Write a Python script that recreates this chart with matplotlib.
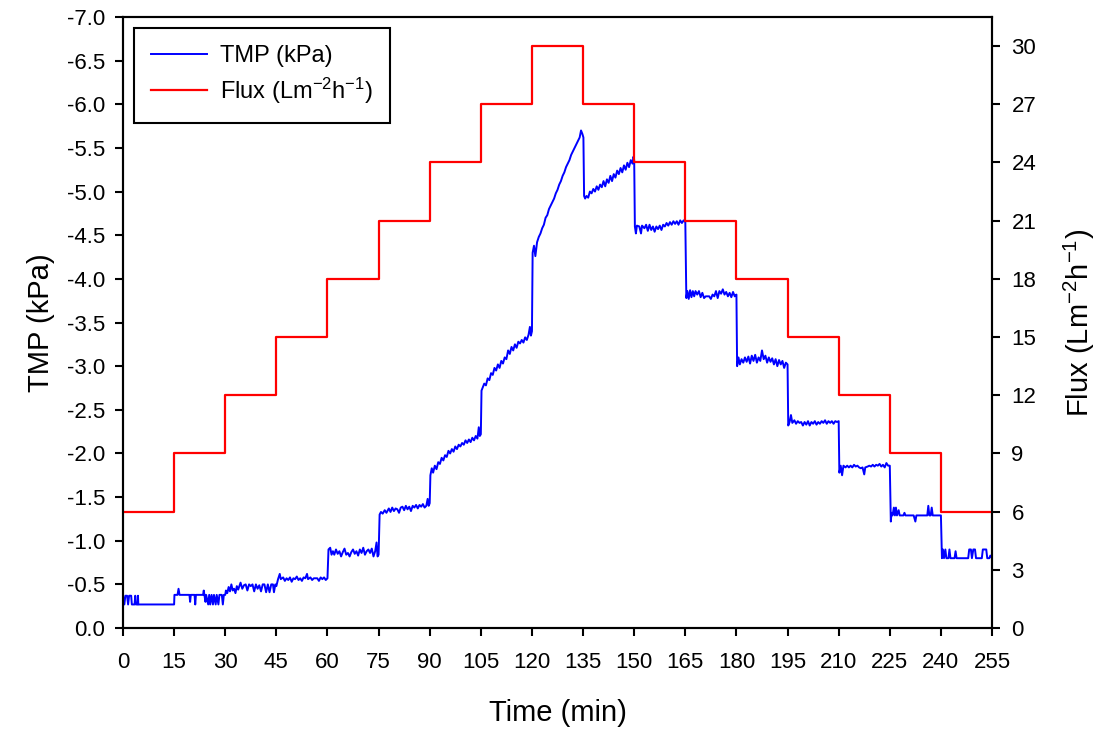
import matplotlib
matplotlib.use("Agg")
import matplotlib.pyplot as plt
from matplotlib.ticker import MultipleLocator, FormatStrFormatter

# TMP trace (time in min, TMP in kPa)
tmp_time = [
    0, 0.4, 0.7, 1.2, 1.5, 1.8, 2.4, 2.6, 3.4, 3.6, 3.8, 4.3, 4.4, 4.5, 15.0,
    15.1, 16.0, 16.3, 16.6, 19.5, 19.7, 19.9, 21.0, 21.2, 21.4, 23.5, 23.7, 23.9, 24.2, 24.4,
    25.0, 25.3, 25.6, 26.0, 26.4, 26.7, 27.2, 27.5, 28.0, 28.3, 29.0, 29.3, 29.6, 30.0,
    30.2, 30.6, 31.0, 31.4, 31.8, 32.2, 32.6, 33.0, 33.4, 33.8, 34.5, 35.0, 35.5, 36.0, 36.5,
    37.0, 37.5, 38.0, 38.5, 39.0, 39.5, 40.0, 40.5, 41.0, 41.5, 42.0, 42.5, 43.0, 43.5, 44.0,
    44.3, 44.7, 45.0,
    45.5, 46.0, 46.3, 47.0, 47.5, 48.0, 48.5, 49.0, 49.5, 50.0, 50.5, 51.0, 51.5, 52.0, 52.5,
    53.0, 53.5, 54.0, 54.3, 55.0, 55.5, 56.0, 57.0, 57.5, 58.0, 58.5, 59.0, 59.5, 60.0,
    60.3, 60.8, 61.2, 61.6, 62.0, 62.5, 63.0, 63.5, 64.0, 64.5, 65.0, 65.5, 66.0, 66.5, 67.0,
    67.5, 68.0, 68.5, 69.0, 69.5, 70.0, 70.5, 71.0, 71.5, 72.0, 72.5, 73.0, 73.5, 74.0, 74.4,
    74.7, 75.0,
    75.3, 75.7, 76.2, 76.8, 77.3, 78.0, 78.5, 79.0, 79.5, 80.0, 80.5, 81.0, 81.5, 82.0, 82.5,
    83.0, 83.5, 84.0, 84.5, 85.0, 85.5, 86.0, 86.5, 87.0, 87.5, 88.0, 88.5, 89.0, 89.4, 89.7, 90.0,
    90.2, 90.6, 91.0, 91.5, 92.0, 92.5, 93.0, 93.5, 94.0, 94.5, 95.0, 95.5, 96.0, 96.5, 97.0,
    97.5, 98.0, 98.5, 99.0, 99.5, 100.0, 100.5, 101.0, 101.5, 102.0, 102.5, 103.0, 103.5, 104.0,
    104.4, 104.7, 105.0,
    105.2, 105.6, 106.0, 106.5, 107.0, 107.5, 108.0, 108.5, 109.0, 109.5, 110.0, 110.5, 111.0,
    111.5, 112.0, 112.5, 113.0, 113.5, 114.0, 114.5, 115.0, 115.5, 116.0, 116.5, 117.0, 117.5,
    118.0, 118.5, 119.0, 119.4, 119.7, 120.0,
    120.2, 120.6, 121.0, 121.5, 122.0, 122.5, 123.0, 123.5, 124.0, 124.5, 125.0, 125.5, 126.0,
    126.5, 127.0, 127.5, 128.0, 128.5, 129.0, 129.5, 130.0, 130.5, 131.0, 131.5, 132.0, 132.5,
    133.0, 133.5, 134.0, 134.4, 134.8, 135.1, 135.3,
    135.6, 136.0, 136.5, 137.0, 137.5, 138.0, 138.5, 139.0, 139.5, 140.0, 140.5, 141.0, 141.5,
    142.0, 142.5, 143.0, 143.5, 144.0, 144.5, 145.0, 145.5, 146.0, 146.5, 147.0, 147.5, 148.0,
    148.5, 149.0, 149.5, 149.8, 150.0, 150.2,
    150.5, 150.8, 151.5, 152.0, 152.3, 153.0, 153.5, 154.0, 154.5, 155.0, 155.5, 156.0, 156.5,
    157.0, 157.5, 158.0, 158.5, 159.0, 159.5, 160.0, 160.5, 161.0, 161.5, 162.0, 162.5, 163.0,
    163.5, 164.0, 164.5, 165.0,
    165.3, 165.6, 166.0, 166.4, 166.8, 167.2, 167.6, 168.0, 168.5, 169.0, 169.5, 170.0, 170.5,
    171.0, 172.0, 172.5, 173.0, 173.5, 174.0, 174.5, 175.0, 175.5, 176.0, 176.5, 177.0, 177.5,
    178.0, 178.5, 179.0, 179.5, 180.0,
    180.2, 180.6, 181.0, 181.5, 182.0, 182.5, 183.0, 183.5, 184.0, 184.5, 185.0, 185.5, 186.0,
    186.5, 187.0, 187.5, 188.0, 188.5, 189.0, 189.5, 190.0, 190.5, 191.0, 191.5, 192.0, 192.5,
    193.0, 193.5, 194.0, 194.5, 195.0,
    195.2, 195.6, 196.0, 196.4, 197.0, 197.5, 198.0, 198.5, 199.0, 199.5, 200.0, 200.5, 201.0,
    201.5, 202.0, 202.5, 203.0, 203.5, 204.0, 204.5, 205.0, 205.5, 206.0, 206.5, 207.0, 207.5,
    208.0, 208.5, 209.0, 209.5, 210.0,
    210.2, 210.6, 211.0, 211.4, 212.0, 212.5, 213.0, 213.5, 214.0, 214.5, 215.0, 215.5, 216.0,
    216.5, 217.0, 217.5, 217.8, 218.5, 219.0, 219.5, 220.0, 220.5, 221.0, 221.5, 222.0, 222.5,
    223.0, 223.5, 224.0, 224.5, 225.0,
    225.3, 225.5, 225.8, 226.2, 226.5, 226.8, 227.1, 227.6, 227.9, 229.0, 229.3, 229.6, 231.0,
    232.0, 232.5, 232.8, 236.0, 236.3, 236.6, 237.0, 237.3, 237.6, 240.0,
    240.3, 240.6, 240.9, 241.3, 241.6, 242.2, 242.5, 242.8, 244.0, 244.3, 244.6, 248.0, 248.3,
    248.8, 249.1, 249.5, 250.0, 250.3, 252.0, 252.3, 253.3, 253.6, 254.2, 254.5, 255.0,
]
tmp_kpa = [
    -0.37, -0.27, -0.37, -0.37, -0.27, -0.37, -0.37, -0.27, -0.27, -0.37, -0.27, -0.27, -0.37, -0.27, -0.27,
    -0.38, -0.38, -0.45, -0.38, -0.38, -0.30, -0.38, -0.38, -0.27, -0.38, -0.38, -0.43, -0.38, -0.30, -0.38,
    -0.27, -0.38, -0.27, -0.38, -0.27, -0.38, -0.27, -0.38, -0.27, -0.38, -0.38, -0.27, -0.38, -0.38,
    -0.43, -0.40, -0.47, -0.42, -0.50, -0.43, -0.45, -0.40, -0.48, -0.44, -0.52, -0.45, -0.49, -0.50, -0.43,
    -0.50, -0.48, -0.50, -0.42, -0.50, -0.45, -0.49, -0.42, -0.50, -0.50, -0.41, -0.50, -0.41, -0.50, -0.50,
    -0.41, -0.50, -0.48,
    -0.56, -0.62, -0.56, -0.58, -0.54, -0.57, -0.55, -0.58, -0.53, -0.57, -0.56, -0.59, -0.55, -0.57, -0.54,
    -0.58, -0.57, -0.62, -0.56, -0.58, -0.55, -0.57, -0.57, -0.54, -0.58, -0.56, -0.58, -0.55, -0.57,
    -0.90, -0.92, -0.84, -0.88, -0.84, -0.90, -0.85, -0.88, -0.82, -0.87, -0.91, -0.84, -0.86, -0.82, -0.87,
    -0.90, -0.85, -0.88, -0.83, -0.90, -0.86, -0.92, -0.84, -0.88, -0.90, -0.86, -0.91, -0.82, -0.88, -0.98,
    -0.82, -0.84,
    -1.30, -1.33, -1.31, -1.35, -1.32, -1.37, -1.33, -1.38, -1.34, -1.37, -1.36, -1.32, -1.38, -1.39, -1.35,
    -1.40, -1.36, -1.39, -1.34, -1.40, -1.38, -1.41, -1.37, -1.41, -1.39, -1.42, -1.38, -1.40, -1.48, -1.40, -1.43,
    -1.75, -1.83, -1.78, -1.86, -1.82, -1.90, -1.88, -1.95, -1.92, -1.98, -1.96, -2.03, -2.00, -2.05, -2.02,
    -2.08, -2.05, -2.10, -2.08, -2.12, -2.10, -2.15, -2.12, -2.16, -2.13, -2.18, -2.15, -2.20, -2.17,
    -2.30, -2.20, -2.22,
    -2.72, -2.76, -2.80, -2.78, -2.86, -2.84, -2.92, -2.90, -2.98, -2.95, -3.02, -2.98, -3.06,
    -3.03, -3.10, -3.08, -3.18, -3.14, -3.22, -3.18, -3.25, -3.21, -3.28, -3.26, -3.30, -3.27,
    -3.33, -3.30, -3.36, -3.45, -3.35, -3.40,
    -4.30, -4.38, -4.26, -4.42, -4.48, -4.52, -4.58, -4.62, -4.70, -4.73, -4.80, -4.84, -4.88,
    -4.92, -4.98, -5.02, -5.08, -5.12, -5.18, -5.22, -5.28, -5.32, -5.36, -5.42, -5.46, -5.50,
    -5.54, -5.58, -5.62, -5.70, -5.66, -5.62, -4.95,
    -4.92, -4.95, -4.93, -5.00, -4.98, -5.03, -5.00, -5.06, -5.02, -5.08, -5.05, -5.12, -5.06,
    -5.14, -5.10, -5.18, -5.12, -5.20, -5.16, -5.24, -5.20, -5.27, -5.22, -5.30, -5.25, -5.33,
    -5.28, -5.36, -5.32, -5.40, -5.36, -4.60,
    -4.52, -4.61, -4.60, -4.52, -4.61, -4.58, -4.62, -4.55, -4.62, -4.56, -4.60, -4.54, -4.60,
    -4.57, -4.61, -4.56, -4.62, -4.60, -4.64, -4.61, -4.65, -4.62, -4.66, -4.63, -4.66, -4.62,
    -4.67, -4.64, -4.67, -4.65,
    -3.78, -3.86, -3.77, -3.87, -3.79, -3.86, -3.80, -3.86, -3.82, -3.86, -3.79, -3.84, -3.78,
    -3.80, -3.80, -3.77, -3.82, -3.80, -3.86, -3.78, -3.86, -3.83, -3.88, -3.82, -3.85, -3.80,
    -3.84, -3.79, -3.85, -3.80, -3.82,
    -3.00, -3.10, -3.02, -3.08, -3.04, -3.10, -3.05, -3.11, -3.03, -3.12, -3.06, -3.13, -3.04,
    -3.10, -3.06, -3.18, -3.08, -3.12, -3.04, -3.10, -3.05, -3.09, -3.02, -3.08, -3.00, -3.07,
    -3.02, -3.06, -2.98, -3.04, -3.02,
    -2.32, -2.36, -2.44, -2.35, -2.38, -2.34, -2.37, -2.35, -2.36, -2.32, -2.36, -2.33, -2.37,
    -2.32, -2.36, -2.34, -2.37, -2.33, -2.36, -2.34, -2.37, -2.35, -2.38, -2.34, -2.37, -2.35,
    -2.37, -2.34, -2.37, -2.36, -2.37,
    -1.78, -1.86, -1.75, -1.86, -1.84, -1.86, -1.84, -1.86, -1.84, -1.87, -1.85, -1.86, -1.84,
    -1.83, -1.84, -1.76, -1.84, -1.85, -1.86, -1.85, -1.87, -1.85, -1.87, -1.86, -1.88, -1.85,
    -1.87, -1.84, -1.89, -1.86, -1.86,
    -1.22, -1.32, -1.29, -1.38, -1.29, -1.38, -1.29, -1.35, -1.29, -1.29, -1.32, -1.29, -1.29,
    -1.29, -1.22, -1.29, -1.29, -1.40, -1.29, -1.29, -1.38, -1.29, -1.29,
    -0.80, -0.90, -0.80, -0.90, -0.80, -0.80, -0.90, -0.80, -0.80, -0.88, -0.80, -0.80, -0.90,
    -0.90, -0.80, -0.90, -0.90, -0.80, -0.80, -0.90, -0.90, -0.80, -0.80, -0.83, -0.80,
]

# Flux set-points, one per 15 min step
flux_start = [0, 15, 30, 45, 60, 75, 90, 105, 120, 135, 150, 165, 180, 195, 210, 225, 240]
flux_lmh = [6, 9, 12, 15, 18, 21, 24, 27, 30, 27, 24, 21, 18, 15, 12, 9, 6]
t_end = 255

plt.rcParams["font.family"] = ["Liberation Sans", "DejaVu Sans"]
plt.rcParams["axes.unicode_minus"] = False
plt.rcParams["mathtext.default"] = "regular"

fig = plt.figure(figsize=(11.03, 7.29), dpi=100)
ax = fig.add_axes([0.1115, 0.1385, 0.7879, 0.8382])
ax2 = ax.twinx()

l1, = ax.plot(tmp_time, tmp_kpa, color="#0000ff", lw=1.4, label="TMP (kPa)")
l2, = ax2.step(flux_start + [t_end], flux_lmh + [flux_lmh[-1]], where="post",
               color="#ff0000", lw=1.6, label="Flux (Lm$^{-2}$h$^{-1}$)")

ax.set_xlim(0, 255)
ax.set_ylim(0, -7.0)
ax2.set_ylim(0, 31.5)

ax.xaxis.set_major_locator(MultipleLocator(15))
ax.yaxis.set_major_locator(MultipleLocator(0.5))
ax.yaxis.set_major_formatter(FormatStrFormatter("%.1f"))
ax2.yaxis.set_major_locator(MultipleLocator(3))

for a in (ax, ax2):
    for s in a.spines.values():
        s.set_linewidth(1.5)
    a.tick_params(direction="out", length=6, width=1.5, labelsize=16)
ax.tick_params(axis="x", pad=11)
ax.tick_params(axis="y", pad=7)
ax2.tick_params(axis="y", pad=8)

ax.set_xlabel("Time (min)", fontsize=21, labelpad=19)
ax.set_ylabel("TMP (kPa)", fontsize=21, labelpad=8)
ax2.set_ylabel("Flux (Lm$^{-2}$h$^{-1}$)", fontsize=21, labelpad=18)

leg = ax2.legend([l1, l2], [l1.get_label(), l2.get_label()], loc="upper left",
                 fontsize=17, frameon=True, fancybox=False, edgecolor="black",
                 framealpha=1, borderpad=0.75, labelspacing=0.35, handlelength=2.35,
                 handletextpad=0.55, borderaxespad=0.45)
leg.get_frame().set_linewidth(1.5)

fig.savefig("out.png", dpi=100)
